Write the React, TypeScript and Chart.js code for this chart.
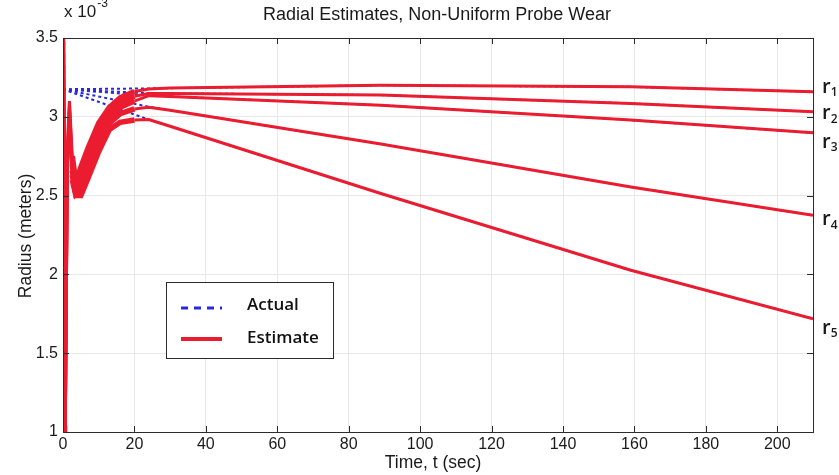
import React, { useEffect, useRef } from "react";
import { Chart, registerables } from "chart.js";

Chart.register(...registerables);

const TITLE = "Radial Estimates, Non-Uniform Probe Wear";
const X_LABEL = "Time, t (sec)";
const Y_LABEL = "Radius (meters)";
const Y_EXP_BASE = "x 10";
const Y_EXP_POWER = "-3";
const LEGEND_LABELS = ["Actual", "Estimate"];
const SERIES_SUBSCRIPTS = ["1", "2", "3", "4", "5"];

// x axis and y axis ranges/ticks (y in units of 10^-3 m)
const X_MIN = 0;
const X_MAX = 210;
const X_STEP = 20;
const Y_MIN = 1;
const Y_MAX = 3.5;
const Y_STEP = 0.5;

// Actual radii
const tActual = [0, 24, 89, 159, 210];
const r1Actual = [3.175, 3.18, 3.2, 3.19, 3.159];
const r2Actual = [3.175, 3.15, 3.138, 3.085, 3.032];
const r3Actual = [3.175, 3.135, 3.074, 2.979, 2.898];
const r4Actual = [3.175, 3.064, 2.827, 2.555, 2.375];
const r5Actual = [3.175, 2.983, 2.513, 2.026, 1.719];

// Estimated radii
const tEstimate = [0, 0.6, 1.2, 1.8, 2.6, 3.6, 5, 7, 10, 13, 16, 20, 24, 30, 89, 159, 210];
const r1Estimate = [3.6, 0.9, 2.8, 3.1, 2.75, 2.58, 2.68, 2.8, 2.96, 3.06, 3.12, 3.16, 3.177, 3.183, 3.2, 3.19, 3.159];
const r2Estimate = [3.6, 0.9, 2.75, 3.08, 2.7, 2.55, 2.63, 2.75, 2.91, 3.03, 3.09, 3.13, 3.148, 3.148, 3.138, 3.085, 3.032];
const r3Estimate = [3.6, 0.9, 2.7, 3.05, 2.66, 2.53, 2.58, 2.71, 2.87, 3.0, 3.06, 3.1, 3.134, 3.129, 3.074, 2.979, 2.898];
const r4Estimate = [3.6, 0.9, 2.66, 3.02, 2.63, 2.51, 2.54, 2.66, 2.83, 2.96, 3.02, 3.05, 3.06, 3.042, 2.827, 2.555, 2.375];
const r5Estimate = [3.6, 0.9, 2.62, 3.0, 2.6, 2.5, 2.5, 2.61, 2.78, 2.92, 2.965, 2.98, 2.983, 2.94, 2.513, 2.026, 1.719];

// Where the r_i labels sit on the right (y value)
const labelValues = [3.19, 3.02, 2.84, 2.35, 1.66];

const actualSeries = [r1Actual, r2Actual, r3Actual, r4Actual, r5Actual];
const estimateSeries = [r1Estimate, r2Estimate, r3Estimate, r4Estimate, r5Estimate];

const BLUE = "rgb(40,40,225)";
const RED = "rgb(236,28,48)";
const AXIS = "#2b2b2b";
const TICK_FONT = "'Liberation Sans', Arial, sans-serif";
const LEGEND_FONT = "'Open Sans', 'Liberation Sans', sans-serif";

const decorPlugin = {
  id: "decor",
  afterDraw(chart: any) {
    const ctx = chart.ctx as CanvasRenderingContext2D;
    const { left, right, top, bottom } = chart.chartArea;
    const xs = chart.scales.x;
    const ys = chart.scales.y;
    ctx.save();

    // box
    ctx.strokeStyle = AXIS;
    ctx.lineWidth = 1;
    ctx.strokeRect(Math.round(left) + 0.5, Math.round(top) + 0.5, Math.round(right - left), Math.round(bottom - top));

    // inward ticks
    ctx.beginPath();
    xs.ticks.forEach((t: any) => {
      const px = Math.round(xs.getPixelForValue(t.value)) + 0.5;
      ctx.moveTo(px, bottom);
      ctx.lineTo(px, bottom - 6);
      ctx.moveTo(px, top);
      ctx.lineTo(px, top + 6);
    });
    ys.ticks.forEach((t: any) => {
      const py = Math.round(ys.getPixelForValue(t.value)) + 0.5;
      ctx.moveTo(left, py);
      ctx.lineTo(left + 6, py);
      ctx.moveTo(right, py);
      ctx.lineTo(right - 6, py);
    });
    ctx.stroke();

    // title
    ctx.fillStyle = "#1a1a1a";
    ctx.font = `18px ${TICK_FONT}`;
    ctx.textAlign = "center";
    ctx.textBaseline = "middle";
    ctx.fillText(TITLE, 437, 15);

    // x label
    ctx.font = `17.5px ${TICK_FONT}`;
    ctx.fillText(X_LABEL, 433, 463);

    // y label
    ctx.save();
    ctx.translate(26, 236);
    ctx.rotate(-Math.PI / 2);
    ctx.fillText(Y_LABEL, 0, 0);
    ctx.restore();

    // exponent
    ctx.textAlign = "left";
    ctx.textBaseline = "alphabetic";
    ctx.font = `17px ${TICK_FONT}`;
    ctx.fillText(Y_EXP_BASE, left + 1, 17);
    const w = ctx.measureText(Y_EXP_BASE).width;
    ctx.font = `12px ${TICK_FONT}`;
    ctx.fillText(Y_EXP_POWER, left + 2 + w, 7);

    // series labels r_i
    SERIES_SUBSCRIPTS.forEach((s, i) => {
      const py = ys.getPixelForValue(labelValues[i]);
      ctx.font = `600 20px ${LEGEND_FONT}`;
      ctx.textBaseline = "middle";
      ctx.fillStyle = "#1a1a1a";
      ctx.fillText("r", right + 9, py);
      const rw = ctx.measureText("r").width;
      ctx.font = `600 12px ${LEGEND_FONT}`;
      ctx.fillText(s, right + 9 + rw, py + 6);
    });

    // legend box
    const lx = 166, ly = 282, lw = 167, lh = 76;
    ctx.fillStyle = "#ffffff";
    ctx.fillRect(lx, ly, lw, lh);
    ctx.strokeStyle = AXIS;
    ctx.lineWidth = 1;
    ctx.strokeRect(lx + 0.5, ly + 0.5, lw, lh);
    // actual sample
    ctx.strokeStyle = BLUE;
    ctx.lineWidth = 3;
    ctx.setLineDash([7, 6]);
    ctx.beginPath();
    ctx.moveTo(181, 308);
    ctx.lineTo(222, 308);
    ctx.stroke();
    ctx.setLineDash([]);
    // estimate sample
    ctx.strokeStyle = RED;
    ctx.lineWidth = 4;
    ctx.beginPath();
    ctx.moveTo(181, 339);
    ctx.lineTo(222, 339);
    ctx.stroke();
    ctx.fillStyle = "#111";
    ctx.font = `600 17px ${LEGEND_FONT}`;
    ctx.textBaseline = "middle";
    ctx.fillText(LEGEND_LABELS[0], 247, 305);
    ctx.fillText(LEGEND_LABELS[1], 247, 338);

    ctx.restore();
  },
};

export default function App() {
  const ref = useRef<HTMLCanvasElement | null>(null);
  useEffect(() => {
    if (!ref.current) return;
    const datasets: any[] = [];
    actualSeries.forEach((arr, i) => {
      datasets.push({
        label: `Actual r${SERIES_SUBSCRIPTS[i]}`,
        data: arr.map((v, j) => ({ x: tActual[j], y: v })),
        borderColor: BLUE,
        borderWidth: 2,
        borderDash: [3, 3],
        pointRadius: 0,
        fill: false,
        order: 2,
        clip: 0,
      });
    });
    estimateSeries.forEach((arr, i) => {
      datasets.push({
        label: `Estimate r${SERIES_SUBSCRIPTS[i]}`,
        data: arr.map((v, j) => ({ x: tEstimate[j], y: v })),
        borderColor: RED,
        borderWidth: 3,
        segment: {
          borderWidth: (c: any) => {
            const x0 = c.p0.parsed.x;
            const x1 = c.p1.parsed.x;
            if (x1 <= 0.6) return 4;
            if (x0 >= 2.6 && x1 <= 20) return 5.5;
            return 3;
          },
        },
        pointRadius: 0,
        fill: false,
        order: 1,
        clip: 0,
      });
    });
    const chart = new Chart(ref.current, {
      type: "line",
      data: { datasets },
      options: {
        responsive: false,
        animation: false,
        devicePixelRatio: 1,
        layout: { padding: { top: 38, right: 26, left: 0, bottom: 0 } },
        plugins: {
          legend: { display: false },
          tooltip: { enabled: false },
          title: { display: false },
        },
        elements: { point: { radius: 0 }, line: { tension: 0 } },
        scales: {
          x: {
            type: "linear",
            min: X_MIN,
            max: X_MAX,
            afterFit: (s: any) => {
              s.height = 43;
            },
            grid: { color: "#e8e8e8", drawTicks: false },
            border: { display: false },
            ticks: {
              stepSize: X_STEP,
              includeBounds: false,
              padding: 3,
              color: "#1a1a1a",
              font: { family: TICK_FONT, size: 16 },
              maxRotation: 0,
            },
          },
          y: {
            type: "linear",
            min: Y_MIN,
            max: Y_MAX,
            afterFit: (s: any) => {
              s.width = 63;
            },
            grid: { color: "#e8e8e8", drawTicks: false },
            border: { display: false },
            ticks: {
              stepSize: Y_STEP,
              padding: 5,
              color: "#1a1a1a",
              font: { family: TICK_FONT, size: 16 },
              callback: (v: any) => String(Number(v)),
            },
          },
        },
      } as any,
      plugins: [decorPlugin],
    });
    return () => chart.destroy();
  }, []);
  return (
    <div style={{ position: "absolute", left: 0, top: 0, width: 839, height: 475, background: "#fff" }}>
      <canvas ref={ref} width={839} height={475} style={{ display: "block" }} />
    </div>
  );
}
